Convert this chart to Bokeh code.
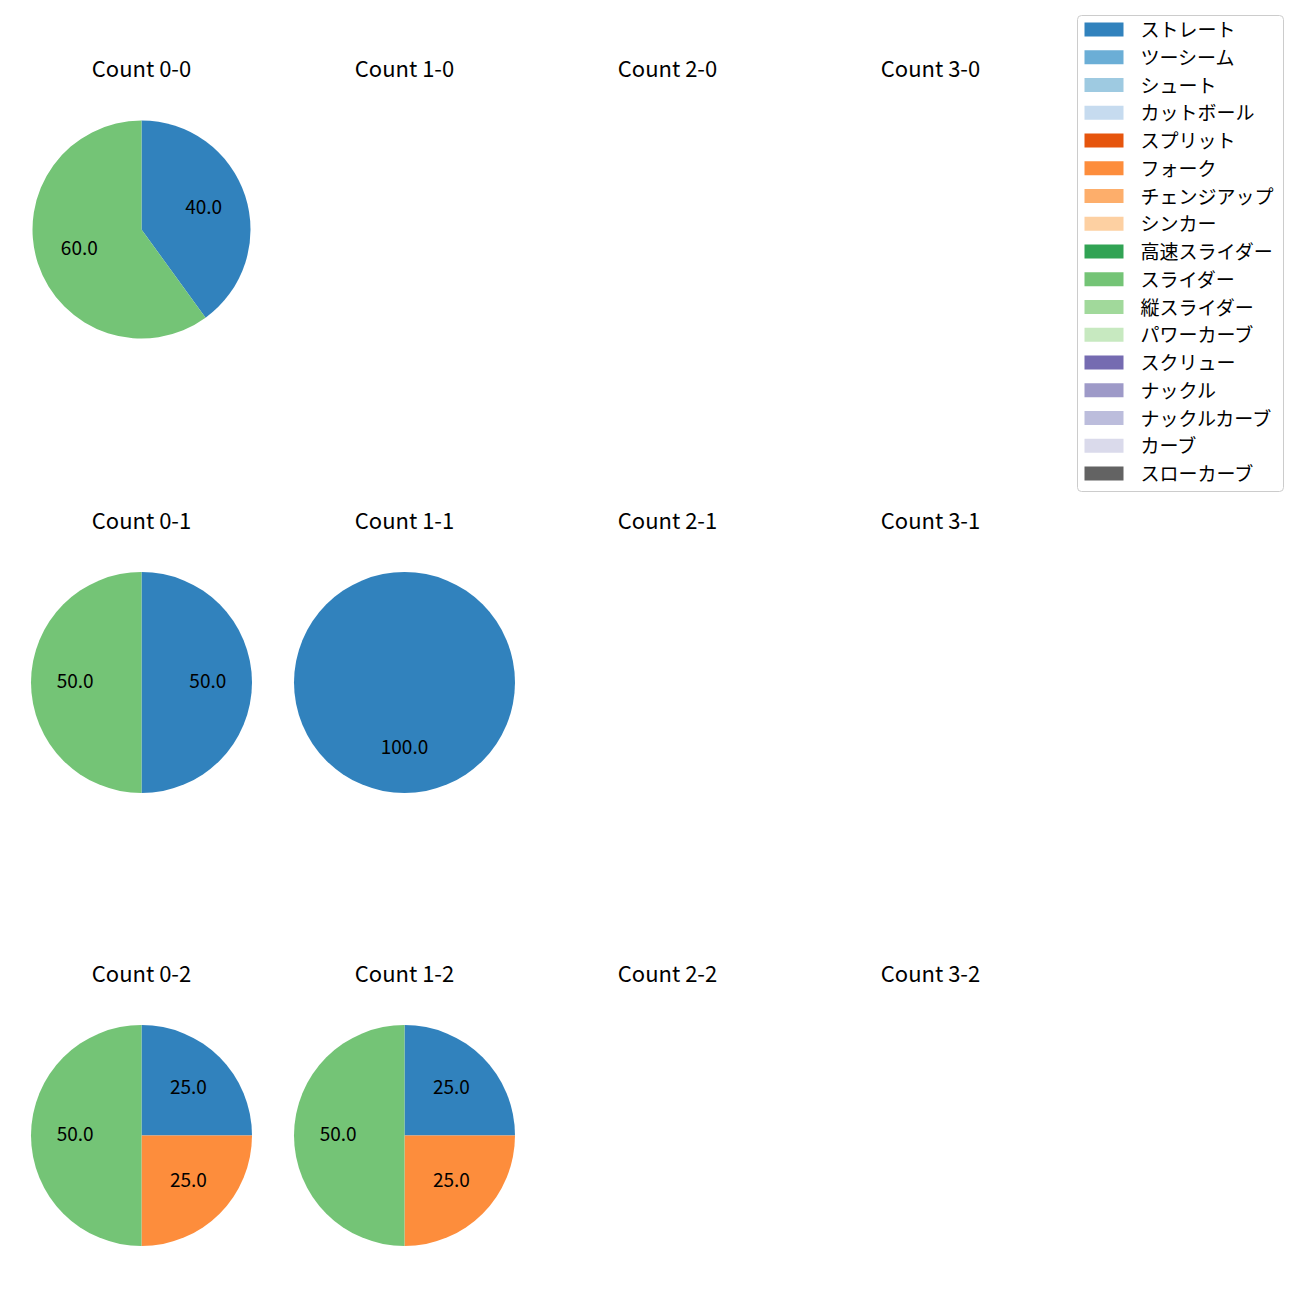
import math
from bokeh.plotting import figure
from bokeh.models import Range1d
from bokeh.core.properties import value
from bokeh.embed import file_html
from bokeh.resources import INLINE

# ---- data ----
pitch_types = ["ストレート", "ツーシーム", "シュート", "カットボール", "スプリット", "フォーク",
               "チェンジアップ", "シンカー", "高速スライダー", "スライダー", "縦スライダー",
               "パワーカーブ", "スクリュー", "ナックル", "ナックルカーブ", "カーブ", "スローカーブ"]
pitch_colors = ["#3182bd", "#6baed6", "#9ecae1", "#c6dbef", "#e6550d", "#fd8d3c",
                "#fdae6b", "#fdd0a2", "#31a354", "#74c476", "#a1d99b", "#c7e9c0",
                "#756bb1", "#9e9ac8", "#bcbddc", "#dadaeb", "#636363"]
panels = ["0-0", "1-0", "2-0", "3-0",
          "0-1", "1-1", "2-1", "3-1",
          "0-2", "1-2", "2-2", "3-2"]
straight = [2, 0, 0, 0, 1, 1, 0, 0, 1, 1, 0, 0]
fork = [0, 0, 0, 0, 0, 0, 0, 0, 1, 1, 0, 0]
slider = [3, 0, 0, 0, 1, 0, 0, 0, 2, 2, 0, 0]

series = {name: [0] * len(panels) for name in pitch_types}
series["ストレート"] = straight
series["フォーク"] = fork
series["スライダー"] = slider

# ---- layout (screen pixels) ----
H = 1284
col_x = [141, 404, 667, 930]
row_cy = [229, 682, 1135]
row_title_y = [66, 518, 971]
row_radius = [109, 110.5, 110.5]
FONT = "Noto Sans CJK JP"

def sy(y):
    return H - y

p = figure(width=1284, height=H, output_backend="svg", toolbar_location=None,
           x_range=Range1d(0, 1284), y_range=Range1d(0, H), min_border=0)
p.axis.visible = False
p.grid.visible = False
p.outline_line_color = None

for i, name in enumerate(panels):
    r, c = divmod(i, 4)
    cx, cy, rad = col_x[c], sy(row_cy[r]), row_radius[r]
    p.text(x=[cx], y=[sy(row_title_y[r])], text=[f"Count {name}"], text_align="center",
           text_baseline="middle", text_font=value(FONT), text_font_size="22px", text_color="black")
    vals = [series[t][i] for t in pitch_types]
    total = sum(vals)
    if total == 0:
        continue
    cum = 0.0
    for t, col, v in zip(pitch_types, pitch_colors, vals):
        if v == 0:
            continue
        f0 = cum / total
        f1 = (cum + v) / total
        cum += v
        start = math.radians(90 - 360 * f1)
        end = math.radians(90 - 360 * f0)
        if f1 - f0 >= 0.9999:
            p.circle(x=[cx], y=[cy], radius=rad, fill_color=col, line_color=None)
        else:
            p.wedge(x=[cx], y=[cy], radius=rad, start_angle=start, end_angle=end,
                    fill_color=col, line_color=None)
        mid = math.radians(90 - 360 * (f0 + f1) / 2)
        lx = cx + 0.6 * rad * math.cos(mid)
        ly = cy + 0.6 * rad * math.sin(mid) + 2
        p.text(x=[lx], y=[ly], text=[f"{100 * v / total:.1f}"], text_align="center",
               text_baseline="middle", text_font=value(FONT), text_font_size="19px",
               text_color="black")

# ---- legend ----
lx0, lx1, ly0, ly1 = 1077, 1283, 15, 491
p.quad(left=[lx0], right=[lx1], top=[sy(ly0)], bottom=[sy(ly1)], fill_color="white",
       fill_alpha=0.8, line_color="#cccccc", line_width=1, border_radius=4)
for k, (t, col) in enumerate(zip(pitch_types, pitch_colors)):
    y = 29 + k * 27.75
    p.quad(left=[1084], right=[1123], top=[sy(y - 7)], bottom=[sy(y + 7)],
           fill_color=col, line_color=None)
    p.text(x=[1140], y=[sy(y - 1)], text=[t], text_align="left", text_baseline="middle",
           text_font=value(FONT), text_font_size="19px", text_color="black")

open("out.html", "w").write(file_html(p, INLINE))
